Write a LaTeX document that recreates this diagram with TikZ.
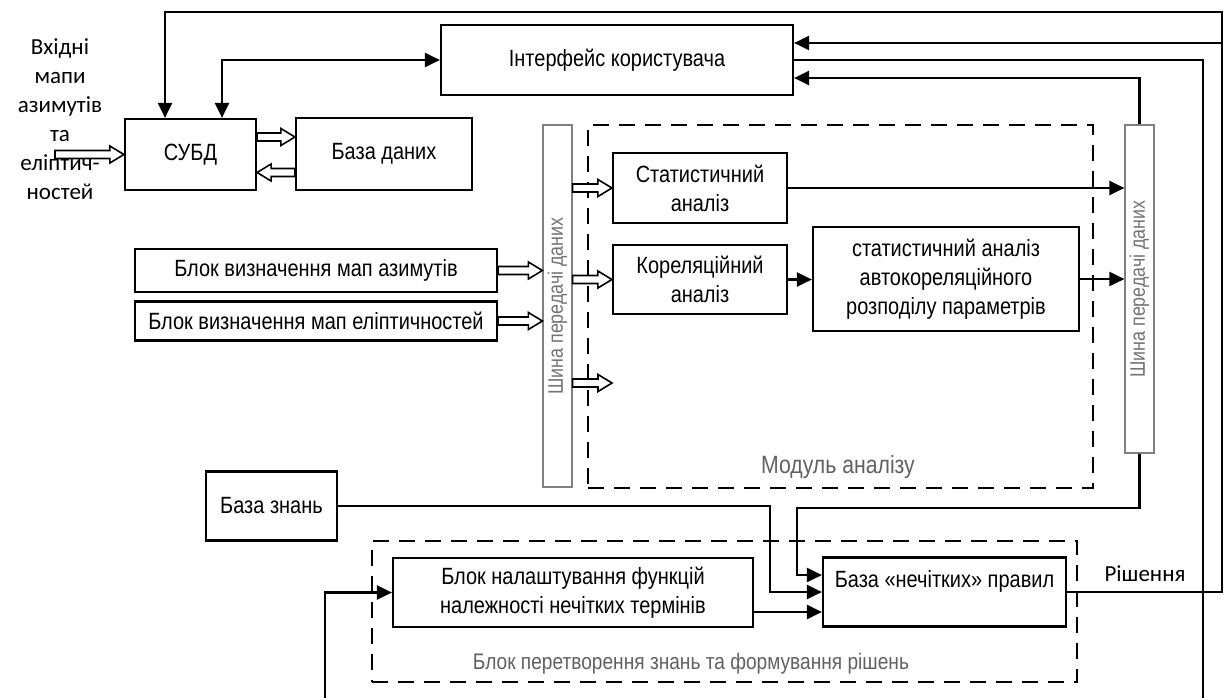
\documentclass[tikz,border=0pt]{standalone}
\usepackage{fontspec}
\setmainfont[FakeStretch=0.85]{Liberation Sans}
\newfontfamily\calib{Carlito}
\usetikzlibrary{arrows.meta,calc}

% horizontal double-line ("hollow") arrow: start, end, sign (- points right, + points left)
\newcommand\hollow[3]{%
  \draw[hollowline] let \p1=#1, \p2=#2 in
    (\x1,\y1+4pt) -- (\x2#314pt,\y1+4pt) -- (\x2#314pt,\y1+8.5pt) -- (\x2,\y1)
    -- (\x2#314pt,\y1-8.5pt) -- (\x2#314pt,\y1-4pt) -- (\x1,\y1-4pt) -- cycle;}

\tikzset{
  blk/.style={draw, fill=white, line width=2.2pt, inner sep=0pt, align=center,
              font=\fontsize{23.5}{29}\selectfont},
  bus/.style={draw=black!50, fill=white, line width=1.2pt, inner sep=0pt},
  bustext/.style={text=black!55, font=\fontsize{21}{24}\selectfont, rotate=90},
  grp/.style={draw, line width=2.2pt, dash pattern=on 16pt off 10pt, inner sep=0pt},
  grplabel/.style={text=black!62, font=\fontsize{25}{28}\selectfont},
  conn/.style={line width=2.2pt},
  tip/.tip={Triangle[length=15pt,width=14pt]},
  arr/.style={conn, -tip},
  hollowline/.style={line width=1.6pt, fill=white, line join=miter},
}

\begin{document}
\begin{tikzpicture}[x=1pt, y=-1pt]
\useasboundingbox (0,0) rectangle (1224,697);
\clip (0,0) rectangle (1224,697);

% grouping frames
\node[grp, minimum width=505pt, minimum height=363pt] (mod) at (840.5,306.5) {};
\node[grp, minimum width=705pt, minimum height=141pt] (kb) at (724.5,611.5) {};
\node[grplabel] (modlbl) at (838,467) {Модуль аналізу};
\node[grplabel, font=\fontsize{22.5}{28}\selectfont] (kblbl) at (691,664) {Блок перетворення знань та формування рішень};

% blocks
\node[blk, minimum width=352pt, minimum height=70pt] (ui) at (617,60) {Інтерфейс користувача};
\node[blk, minimum width=131pt, minimum height=71pt] (subd) at (190.5,154.5) {СУБД};
\node[blk, minimum width=176pt, minimum height=72pt] (bd) at (384,154) {База даних};
\node[blk, minimum width=362pt, minimum height=43pt] (azim) at (316,270.5) {Блок визначення мап азимутів};
\node[blk, minimum width=362pt, minimum height=39pt] (ell) at (316,321) {Блок визначення мап еліптичностей};
\node[blk, minimum width=174pt, minimum height=70pt] (stat) at (700,188) {Статистичний\\аналіз};
\node[blk, minimum width=174pt, minimum height=69pt] (corr) at (700,279.5) {Кореляційний\\аналіз};
\node[blk, minimum width=266pt, minimum height=104pt] (auto) at (946,279) {статистичний аналіз\\автокореляційного\\розподілу параметрів};
\node[blk, minimum width=131pt, minimum height=69pt] (bz) at (271.5,506) {База знань};
\node[blk, minimum width=360pt, minimum height=69pt] (tune) at (573,592.5) {Блок налаштування функцій\\належності нечітких термінів};
\node[blk, minimum width=243pt, minimum height=69pt] (rules) at (944.5,592) {};
\node[font=\fontsize{23.5}{29}\selectfont] (rulestext) at (944.5,581) {База «нечітких» правил};

% data buses
\node[bus, minimum width=29pt, minimum height=362pt] (busL) at (557.5,306) {};
\node[bustext] (busLtext) at (busL) {Шина передачі даних};
\node[bus, minimum width=29pt, minimum height=328pt] (busR) at (1139.5,289) {};
\node[bustext] (busRtext) at (busR) {Шина передачі даних};

% input label
\node[font=\calib\fontsize{23}{29}\selectfont, align=center] (inp) at (60,119.5)
  {Вхідні\\мапи\\азимутів\\та\\еліптич-\\ностей};
\node[font=\calib\fontsize{23}{26}\selectfont] (sol) at (1145,574) {Рішення};

% routing points
\coordinate (jT) at (1222,12);
\coordinate (jR) at (1222,43);
\coordinate (rb) at (1203,720);
\coordinate (lb) at (325,720);
\coordinate (k1) at (797,508);
\coordinate (k2) at (770,506);
\coordinate (inpstart) at (55,154.5);
\coordinate (free) at (612,383);

% connectors
\draw[arr] (rules.east) -| (jT) -| ([xshift=-25.5pt]subd.north);
\draw[arr] (jR) -- (jR -| ui.east);
\draw[conn, tip-tip] ([xshift=31.5pt]subd.north) |- (ui.west);
\draw[arr] (ui.east) -| (rb) -- (lb) |- (tune.west);
\draw[arr] (busR.north) |- ([yshift=-18pt]ui.east);
\draw[arr] (busR.south) |- (k1) |- ([yshift=17pt]rules.west);
\draw[arr] (bz.east) -- (k2) |- (rules.west);
\draw[arr] ([yshift=-19.5pt]tune.east) -- ([yshift=-19.5pt]tune.east -| rules.west);
\draw[arr] (stat.east) -- (stat.east -| busR.west);
\draw[arr] (corr.east) -- (corr.east -| auto.west);
\draw[arr] (auto.east) -- (auto.east -| busR.west);

% hollow data arrows
\hollow{(inpstart)}{(subd.west)}{-}
\hollow{([yshift=17.5pt]subd.east)}{([yshift=17.5pt]bd.west)}{-}
\hollow{([yshift=-18.5pt]bd.west)}{([yshift=-18.5pt]subd.east)}{+}
\hollow{(azim.east)}{(azim.east -| busL.west)}{-}
\hollow{(ell.east)}{(ell.east -| busL.west)}{-}
\hollow{(busL.east |- stat.west)}{(stat.west)}{-}
\hollow{(busL.east |- corr.west)}{(corr.west)}{-}
\hollow{(busL.east |- free)}{(free)}{-}
\end{tikzpicture}
\end{document}
